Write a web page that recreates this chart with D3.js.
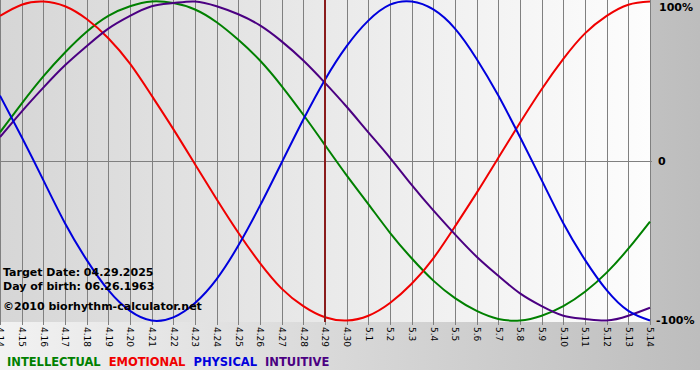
<!DOCTYPE html>
<html>
<head>
<meta charset="utf-8">
<script src="https://cdn.jsdelivr.net/npm/d3@7"></script>
<style>
  html, body { margin: 0; padding: 0; background: #fff; }
  svg { display: block; }
</style>
</head>
<body>
<svg id="chart" width="700" height="380"></svg>
<script>
// day labels, 4.14 .. 5.14
const days = ["4.14","4.15","4.16","4.17","4.18","4.19","4.20","4.21","4.22","4.23","4.24","4.25","4.26","4.27","4.28","4.29","4.30",
  "5.1","5.2","5.3","5.4","5.5","5.6","5.7","5.8","5.9","5.10","5.11","5.12","5.13","5.14"];

// values in percent
const intellectual = [18,36,53,68,81,91,97,100,99,95,87,76,63,47,29,10,-9,-27,-45,-61,-75,-86,-94,-99,-100,-97,-91,-82,-70,-55,-38];
const emotional = [91,98,100,97,89,77,61,41,20,-2,-24,-45,-64,-80,-91,-98,-100,-97,-89,-77,-61,-41,-20,2,24,45,64,80,91,98,100];
const physical = [41,15,-12,-39,-62,-81,-94,-100,-98,-89,-74,-53,-28,-1,26,51,72,88,98,100,95,83,64,41,15,-12,-39,-62,-81,-94,-100];
const intuitive = [15,31,46,60,72,83,91,97,99,100,97,92,85,75,63,49,34,18,2,-15,-31,-46,-60,-72,-83,-91,-97,-99,-100,-97,-92];

const yTicks = [100, 0, -100];
const targetDay = "4.29";
const infoLines = ["Target Date: 04.29.2025", "Day of birth: 06.26.1963", "\u00a92010 biorhythm-calculator.net"];

const series = [
  {name: "INTELLECTUAL", values: intellectual, color: "#008000"},
  {name: "EMOTIONAL", values: emotional, color: "#f00000"},
  {name: "INTUITIVE", values: intuitive, color: "#4b0082"},
  {name: "PHYSICAL", values: physical, color: "#0000dd"}
];
const legendOrder = ["INTELLECTUAL", "EMOTIONAL", "PHYSICAL", "INTUITIVE"];

const svg = d3.select("#chart");
const W = 700, plotW = 650, plotH = 322;

const defs = svg.append("defs");
const outerGrad = defs.append("linearGradient").attr("id", "outerGrad");
outerGrad.append("stop").attr("offset", "0%").attr("stop-color", "#f2f2f2");
outerGrad.append("stop").attr("offset", "100%").attr("stop-color", "#bdbdbd");
const plotGrad = defs.append("linearGradient").attr("id", "plotGrad");
plotGrad.append("stop").attr("offset", "0%").attr("stop-color", "#d6d6d6");
plotGrad.append("stop").attr("offset", "100%").attr("stop-color", "#fdfdfd");

svg.append("rect").attr("width", W).attr("height", 370).attr("fill", "url(#outerGrad)");
svg.append("rect").attr("width", plotW).attr("height", plotH).attr("fill", "url(#plotGrad)");

const x = d3.scalePoint().domain(days).range([0, plotW]);
const y = d3.scaleLinear().domain([-100, 100]).range([320.5, 1.5]);

// day gridlines + rotated labels
const xAxis = svg.append("g")
  .call(d3.axisBottom(x).tickSize(325).tickPadding(0));
xAxis.select(".domain").remove();
xAxis.selectAll(".tick line").attr("stroke", "#808080").attr("shape-rendering", "crispEdges");
xAxis.selectAll(".tick text")
  .attr("transform", "rotate(90)")
  .attr("x", 327).attr("y", 0).attr("dy", "0.35em")
  .attr("text-anchor", "start")
  .attr("fill", "#000")
  .style("font", "9px 'DejaVu Sans', Verdana, sans-serif");

// zero line
svg.append("line")
  .attr("x1", 0).attr("x2", plotW + 2)
  .attr("y1", Math.round(y(0)) + 0.5).attr("y2", Math.round(y(0)) + 0.5)
  .attr("stroke", "#808080");

// curves
const line = d3.line()
  .x((d, i) => x(days[i]))
  .y(d => y(d))
  .curve(d3.curveNatural);

svg.append("g").selectAll("path")
  .data(series)
  .join("path")
  .attr("d", d => line(d.values))
  .attr("fill", "none")
  .attr("stroke", d => d.color)
  .attr("stroke-width", 2);

// target day marker
svg.append("line")
  .attr("x1", x(targetDay)).attr("x2", x(targetDay))
  .attr("y1", 0).attr("y2", plotH)
  .attr("stroke", "#8a1c1c").attr("stroke-width", 2);

// right labels
svg.append("g").selectAll("text")
  .data(yTicks)
  .join("text")
  .attr("x", d => d < 0 ? 656 : (d === 0 ? 658 : 659))
  .attr("y", d => Math.min(Math.max(y(d), 7), 322))
  .attr("dy", "0.36em")
  .text(d => d === 0 ? "0" : d + "%")
  .style("font", "bold 11px 'DejaVu Sans', Verdana, sans-serif");

// info text
svg.append("g").selectAll("text")
  .data(infoLines)
  .join("text")
  .attr("x", 3)
  .attr("y", (d, i) => [276, 290, 310][i])
  .text(d => d)
  .style("font", "bold 11px 'DejaVu Sans', Verdana, sans-serif");

// legend
let lx = 7;
const legend = svg.append("g");
legendOrder.forEach(name => {
  const s = series.find(s => s.name === name);
  const t = legend.append("text")
    .attr("x", lx).attr("y", 366)
    .attr("fill", s.color)
    .text(name)
    .style("font", "bold 11.5px 'DejaVu Sans', Verdana, sans-serif");
  lx += t.node().getComputedTextLength() + 8;
});

svg.append("rect").attr("y", 370).attr("width", W).attr("height", 10).attr("fill", "#fff");
</script>
</body>
</html>
